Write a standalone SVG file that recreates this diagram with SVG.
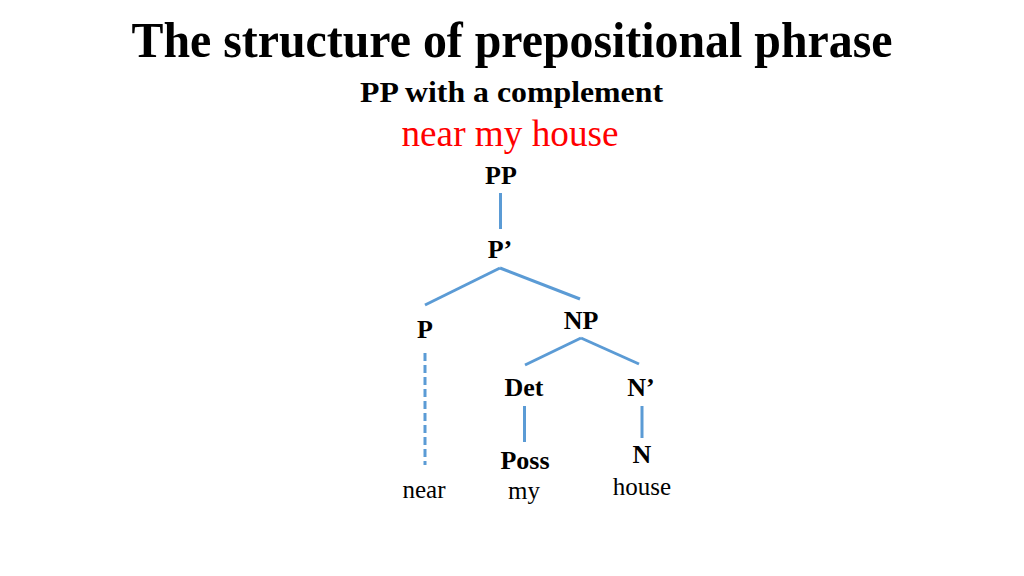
<svg xmlns="http://www.w3.org/2000/svg" width="1024" height="576" viewBox="0 0 1024 576">
<style>
text{font-family:"Liberation Serif","Times New Roman",serif;text-anchor:middle;fill:#000}
.b{font-weight:bold}
.lab{font-size:26px;font-weight:bold}
.word{font-size:25px}
.edge{stroke:#5b9bd5;stroke-width:3;fill:none}
.dash{stroke-dasharray:8,4}
</style>
<rect width="1024" height="576" fill="#fff"/>
<g id="title">
<text x="512" y="57" class="b" font-size="50" textLength="761" lengthAdjust="spacingAndGlyphs">The structure of prepositional phrase</text>
<text x="511.5" y="102" class="b" font-size="29" textLength="303" lengthAdjust="spacingAndGlyphs">PP with a complement</text>
<text x="510" y="146" font-size="37" style="fill:#ff0000" textLength="217" lengthAdjust="spacingAndGlyphs">near my house</text>
</g>
<g id="connectors">
<line class="edge" x1="500.5" y1="193" x2="500.5" y2="229"/>
<line class="edge" x1="500" y1="268" x2="425" y2="305"/>
<line class="edge" x1="500" y1="268" x2="580" y2="299"/>
<line class="edge" x1="581" y1="338" x2="525" y2="365"/>
<line class="edge" x1="581" y1="338" x2="639" y2="364"/>
<line class="edge" x1="524.5" y1="406" x2="524.5" y2="442"/>
<line class="edge" x1="642" y1="406" x2="642" y2="438"/>
<line class="edge dash" x1="425" y1="353" x2="425" y2="465"/>
</g>
<g id="node-PP"><text x="501" y="184" class="lab">PP</text></g>
<g id="node-Pbar"><text x="500" y="258" class="lab">P’</text></g>
<g id="node-P"><text x="425" y="338" class="lab">P</text></g>
<g id="node-NP"><text x="581" y="329" class="lab">NP</text></g>
<g id="node-Det"><text x="524" y="396" class="lab">Det</text></g>
<g id="node-Nbar"><text x="641" y="396" class="lab">N’</text></g>
<g id="node-Poss"><text x="525" y="469" class="lab">Poss</text></g>
<g id="node-N"><text x="642" y="463" class="lab">N</text></g>
<g id="word-near"><text x="424" y="498" class="word">near</text></g>
<g id="word-my"><text x="524" y="499" class="word">my</text></g>
<g id="word-house"><text x="642" y="495" class="word">house</text></g>
</svg>
